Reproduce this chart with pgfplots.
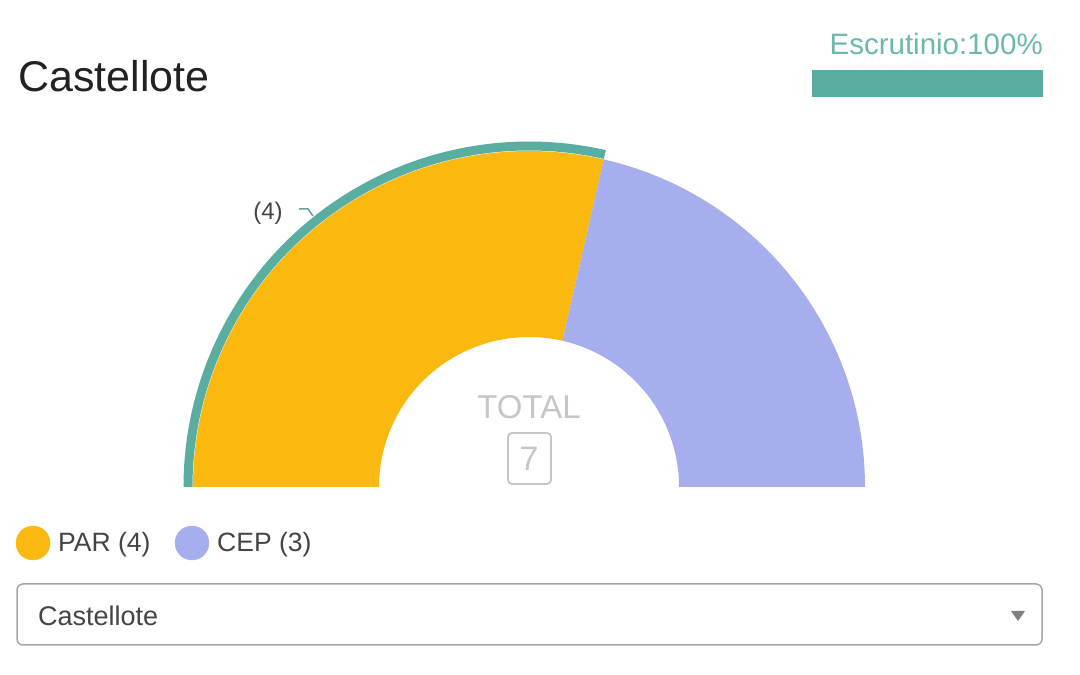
\documentclass[border=0pt]{standalone}
\usepackage{pgfplots}
\pgfplotsset{compat=1.18}
\usepackage{fontspec}
\setmainfont{Liberation Sans}
\definecolor{parcol}{HTML}{FBB90F}
\definecolor{cepcol}{HTML}{A6AEEE}
\definecolor{tealc}{HTML}{5AAEA1}
\definecolor{tealtxt}{HTML}{6DB8AC}
\definecolor{totgray}{HTML}{C6C6C6}
\definecolor{txtdark}{HTML}{444444}
\definecolor{titlec}{HTML}{222222}
% seats
\def\vPAR{4}
\def\vCEP{3}
\begin{document}
\begin{tikzpicture}
\begin{axis}[
  x=1pt, y=1pt,
  xmin=0, xmax=1080, ymin=0, ymax=675,
  hide axis, clip=false,
  axis line style={draw=none},
]
\pgfmathsetmacro\tot{\vPAR+\vCEP}
\pgfmathsetmacro\aS{180-180*\vPAR/\tot}
\def\cx{529}
\def\cy{188}
\def\ro{336}
\def\ri{150}
% background
\fill[white] (axis cs:0,0) rectangle (axis cs:1080,675);
% PAR sector
\fill[parcol] (axis cs:{\cx-\ro},\cy) arc[start angle=180, end angle=\aS, radius=\ro]
  -- (axis cs:{\cx+\ri*cos(\aS)},{\cy+\ri*sin(\aS)}) arc[start angle=\aS, end angle=180, radius=\ri] -- cycle;
% CEP sector
\fill[cepcol] (axis cs:{\cx+\ro*cos(\aS)},{\cy+\ro*sin(\aS)}) arc[start angle=\aS, end angle=0, radius=\ro]
  -- (axis cs:{\cx+\ri},\cy) arc[start angle=0, end angle=\aS, radius=\ri] -- cycle;
% highlight arc
\draw[tealc, line width=9pt] (axis cs:{\cx-341},\cy) arc[start angle=180, end angle=\aS, radius=341];
% label (4)
\node[anchor=base, text=txtdark, font=\fontsize{24}{28}\selectfont] at (axis cs:268,455) {(4)};
\draw[tealc!70!gray, line width=1.5pt] (axis cs:299,466) -- (axis cs:308,466) -- (axis cs:313,459);
% centre
\node[anchor=base, text=totgray, font=\fontsize{33}{38}\selectfont] at (axis cs:529,256) {TOTAL};
\draw[totgray, line width=1.8pt, rounded corners=4pt] (axis cs:508,191) rectangle (axis cs:551,242);
\node[anchor=base, text=totgray, font=\fontsize{34}{38}\selectfont] at (axis cs:529,204) {7};
% title
\node[anchor=base west, text=titlec, font=\fontsize{43}{48}\selectfont, inner sep=0pt] at (axis cs:18,583) {Castellote};
% escrutinio
\node[anchor=base east, text=tealtxt, font=\fontsize{29.5}{34}\selectfont, inner sep=0pt] at (axis cs:1043,620) {Escrutinio:100\%};
\fill[tealc] (axis cs:812,578) rectangle (axis cs:1043,605);
% legend
\addplot[only marks, mark=*, mark size=17pt, color=parcol] coordinates {(33,132)};
\addplot[only marks, mark=*, mark size=17pt, color=cepcol] coordinates {(192,132)};
\node[anchor=base west, text=txtdark, font=\fontsize{26.5}{30}\selectfont, inner sep=0pt] at (axis cs:58,123) {PAR (4)};
\node[anchor=base west, text=txtdark, font=\fontsize{26.5}{30}\selectfont, inner sep=0pt] at (axis cs:217,123) {CEP (3)};
% dropdown
\draw[gray!70, line width=1.5pt, rounded corners=6pt] (axis cs:17,30) rectangle (axis cs:1042,91);
\node[anchor=base west, text=txtdark, font=\fontsize{27}{30}\selectfont, inner sep=0pt] at (axis cs:38,49) {Castellote};
\fill[gray] (axis cs:1011,64) -- (axis cs:1025,64) -- (axis cs:1018,54) -- cycle;
\end{axis}
\end{tikzpicture}
\end{document}
